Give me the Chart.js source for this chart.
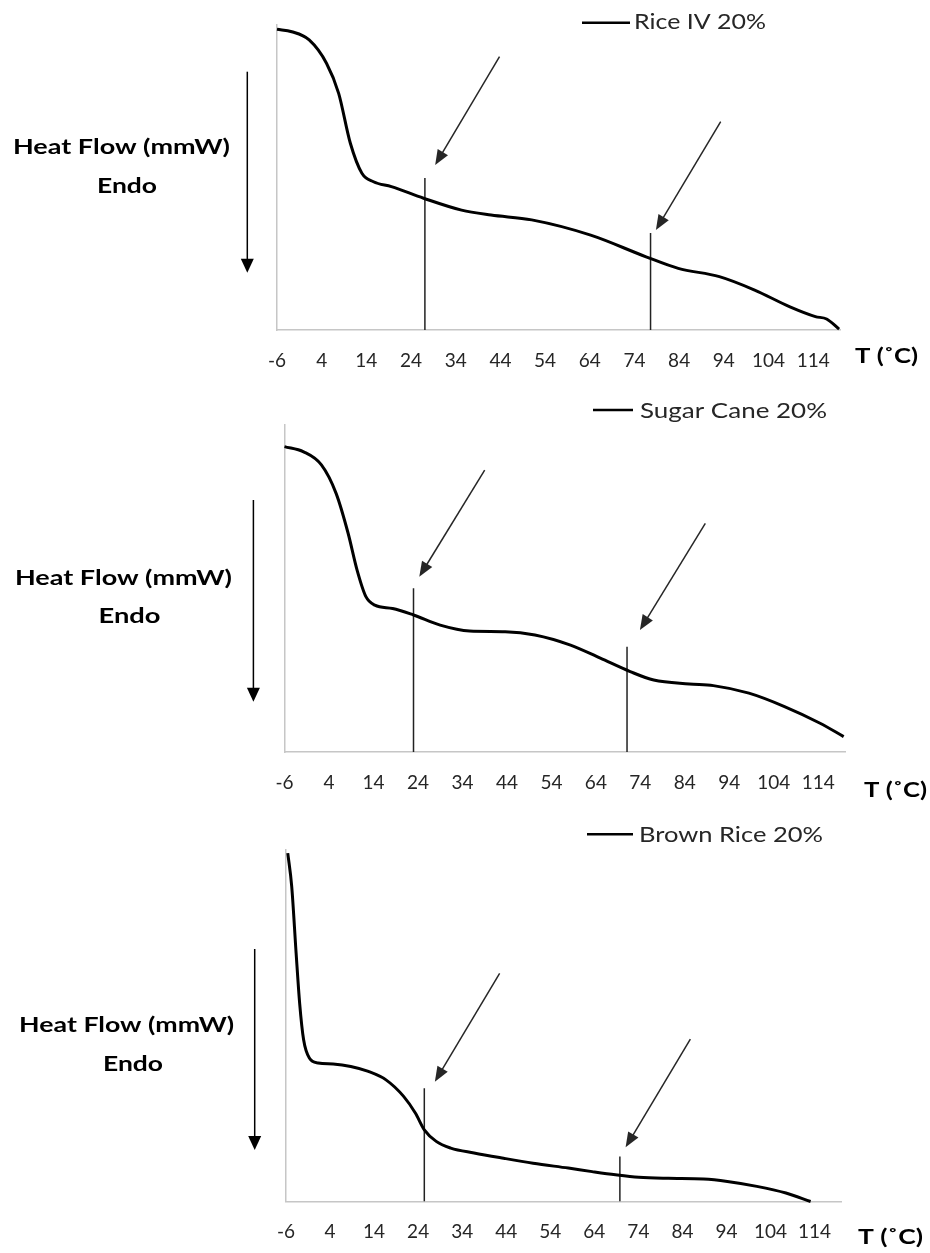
<!DOCTYPE html>
<html>
<head>
<meta charset="utf-8">
<script src="https://cdn.jsdelivr.net/npm/chart.js@4.4.1/dist/chart.umd.min.js"></script>
<style>
  body { margin: 0; background: #fff; width: 930px; height: 1253px; position: relative; overflow: hidden; }
  canvas { position: absolute; left: 0; }
</style>
</head>
<body>
<canvas id="c1" width="930" height="400" style="top:0px;width:930px;height:400px"></canvas>
<canvas id="c2" width="930" height="415" style="top:400px;width:930px;height:415px"></canvas>
<canvas id="c3" width="930" height="438" style="top:815px;width:930px;height:438px"></canvas>
<script>
var xTicks = [-6, 4, 14, 24, 34, 44, 54, 64, 74, 84, 94, 104, 114];
var yTitle = ['Heat Flow (mmW)', 'Endo'];
var xTitle = 'T (˚C)';

// Rice IV 20%
var riceT  = [-6, -2.7, 1.2, 5.1, 7.8, 10.4, 13.0, 15.6, 19.6, 26.8, 35.3, 41.9, 51.0, 64.2, 76.6, 83.8, 93.0, 100.9, 108.8, 114.5, 117.0, 119.8];
var riceHF = [98.6, 97.8, 95.1, 87.4, 77.6, 61.3, 51.4, 48.6, 47.0, 43.2, 39.3, 37.7, 36.1, 31.1, 24.0, 20.2, 17.5, 13.1, 7.6, 4.4, 3.6, 0.3];
var riceMarkT = [27.1, 77.6];
var riceMarkTop = [49.8, 31.8];
var riceArrows = [[43.8, 89.6, 29.4, 54.1], [93.3, 68.3, 78.8, 32.8]];

// Sugar Cane 20%
var caneT  = [-6, -1.7, 2.3, 5.6, 8.3, 10.3, 12.3, 14.3, 18.3, 23.0, 29.0, 35.6, 43.6, 50.3, 58.3, 65.0, 71.7, 77.0, 85.0, 90.4, 98.4, 106.4, 114.4, 119.7];
var caneHF = [93.4, 91.8, 87.8, 79.1, 66.9, 55.7, 47.5, 44.9, 43.9, 41.9, 38.8, 37.0, 36.8, 35.8, 32.7, 28.7, 24.6, 22.0, 20.8, 20.3, 18.0, 13.9, 8.8, 4.7];
var caneMarkT = [23.0, 71.0];
var caneMarkTop = [50.1, 32.2];
var caneArrows = [[39.0, 86.2, 24.3, 53.6], [88.6, 69.9, 73.9, 37.3]];

// Brown Rice 20%
var brownT  = [-5.6, -4.7, -3.7, -2.9, -2.0, -0.7, 1.3, 4.7, 8.7, 12.7, 16.7, 20.7, 23.4, 25.4, 28.1, 31.4, 36.7, 43.4, 50.1, 58.1, 63.5, 68.8, 74.1, 80.8, 88.8, 94.2, 100.9, 107.5, 113.1];
var brownHF = [99.1, 89.6, 70.6, 56.4, 46.0, 40.8, 39.4, 39.1, 38.4, 37.0, 34.6, 29.9, 25.1, 20.4, 17.1, 15.2, 13.8, 12.3, 10.9, 9.5, 8.5, 7.6, 6.9, 6.6, 6.4, 5.7, 4.3, 2.4, 0];
var brownMarkT = [25.4, 69.8];
var brownMarkTop = [32.2, 12.8];
var brownArrows = [[42.5, 64.9, 27.8, 34.1], [85.8, 46.2, 71.1, 15.4]];


function drawArrow(ctx, x1, y1, x2, y2, head, w) {
  var a = Math.atan2(y2 - y1, x2 - x1);
  var c = Math.cos(a), s = Math.sin(a);
  ctx.beginPath();
  ctx.moveTo(x1, y1);
  ctx.lineTo(x2 - c * head * 0.8, y2 - s * head * 0.8);
  ctx.stroke();
  ctx.beginPath();
  ctx.moveTo(x2, y2);
  ctx.lineTo(x2 - head * c + w / 2 * s, y2 - head * s - w / 2 * c);
  ctx.lineTo(x2 - head * c - w / 2 * s, y2 - head * s + w / 2 * c);
  ctx.closePath();
  ctx.fill();
}

// text squeezed/stretched to the width it has in the picture
function fitText(ctx, text, x, y, w, font, color, align) {
  ctx.save();
  ctx.font = font;
  ctx.fillStyle = color;
  ctx.textBaseline = 'alphabetic';
  ctx.textAlign = 'left';
  var k = w / ctx.measureText(text).width;
  var left = align === 'center' ? x - w / 2 : x;
  ctx.translate(left, y);
  ctx.scale(k, 1);
  ctx.fillText(text, 0, 0);
  ctx.restore();
}

function makeDeco(arrows, lay) {
  return {
    id: 'deco',
    afterDraw: function (chart) {
      var ctx = chart.ctx, xs = chart.scales.x, ys = chart.scales.y;
      ctx.save();
      ctx.strokeStyle = '#262626';
      ctx.fillStyle = '#262626';
      ctx.lineWidth = 1.5;
      arrows.forEach(function (a) {
        drawArrow(ctx, xs.getPixelForValue(a[0]), ys.getPixelForValue(a[1]),
          xs.getPixelForValue(a[2]), ys.getPixelForValue(a[3]), 15, 12);
      });
      // y title arrow (endo down)
      ctx.strokeStyle = '#000';
      ctx.fillStyle = '#000';
      drawArrow(ctx, lay.yArrow[0], lay.yArrow[1], lay.yArrow[0], lay.yArrow[2], 14, 13);
      // legend
      ctx.lineWidth = 2.5;
      ctx.beginPath();
      ctx.moveTo(lay.legX[0], lay.legY);
      ctx.lineTo(lay.legX[1], lay.legY);
      ctx.stroke();
      ctx.restore();
      fitText(ctx, chart.data.datasets[0].label, lay.legT[0], lay.legT[1], lay.legT[2], '22px Lato', '#262626', 'left');
      fitText(ctx, yTitle[0], lay.t1[0], lay.t1[1], lay.t1[2], 'bold 21px Lato', '#000', 'center');
      fitText(ctx, yTitle[1], lay.t2[0], lay.t2[1], lay.t2[2], 'bold 21px Lato', '#000', 'center');
      fitText(ctx, xTitle, lay.xt[0], lay.xt[1], lay.xt[2], 'bold 21px Lato', '#000', 'left');
    }
  };
}

function makeChart(id, name, temps, flows, markT, markTop, arrows, lay) {
  var datasets = [{
    label: name,
    data: temps.map(function (t, i) { return {x: t, y: flows[i]}; }),
    borderColor: '#000',
    borderWidth: 3,
    pointRadius: 0,
    cubicInterpolationMode: 'monotone',
    clip: false
  }];
  markT.forEach(function (t, i) {
    datasets.push({
      label: '',
      data: [{x: t, y: 0}, {x: t, y: markTop[i]}],
      borderColor: '#222',
      borderWidth: 1.5,
      pointRadius: 0
    });
  });

  return new Chart(document.getElementById(id), {
    type: 'line',
    data: {datasets: datasets},
    options: {
      responsive: false,
      animation: false,
      events: [],
      layout: {padding: {left: lay.left, right: lay.right, top: lay.top, bottom: 0}},
      scales: {
        x: {
          type: 'linear', min: -6, max: 120,
          grid: {display: false, drawTicks: false},
          border: {color: '#c6c6c6', width: 1.5},
          afterBuildTicks: function (s) { s.ticks = xTicks.map(function (v) { return {value: v}; }); },
          afterFit: function (s) { s.height = lay.axisH; },
          ticks: {
            autoSkip: false, maxRotation: 0, padding: 19, color: '#262626',
            font: {family: 'Lato', size: 19},
            callback: function (v) { return String(v); }
          }
        },
        y: {
          min: 0, max: 100,
          grid: {display: false, drawTicks: false},
          border: {color: '#c6c6c6', width: 1.5},
          ticks: {display: false}
        }
      },
      plugins: {legend: {display: false}, tooltip: {enabled: false}}
    },
    plugins: [makeDeco(arrows, lay)]
  });
}

makeChart('c1', 'Rice IV 20%', riceT, riceHF, riceMarkT, riceMarkTop, riceArrows, {
  left: 277, right: 90, top: 25, axisH: 70,
  legX: [582, 630], legY: 22.7, legT: [634, 29.3, 132],
  t1: [121.5, 154.3, 217], t2: [127, 193, 60],
  yArrow: [247.3, 71.7, 272.7], xt: [855, 363.3, 63]
});

makeChart('c2', 'Sugar Cane 20%', caneT, caneHF, caneMarkT, caneMarkTop, caneArrows, {
  left: 284.5, right: 85, top: 25, axisH: 63,
  legX: [593, 633], legY: 10, legT: [640, 18.3, 187],
  t1: [123.5, 185, 217], t2: [129.5, 223, 62],
  yArrow: [253.4, 100, 301.7], xt: [864, 397, 63]
});

makeChart('c3', 'Brown Rice 20%', brownT, brownHF, brownMarkT, brownMarkTop, brownArrows, {
  left: 286, right: 89, top: 35, axisH: 51.5,
  legX: [587, 633], legY: 19.3, legT: [639, 27.3, 184],
  t1: [126.6, 216.7, 215], t2: [133, 255.7, 60],
  yArrow: [254.7, 134, 335], xt: [858, 429, 65]
});
</script>
</body>
</html>
